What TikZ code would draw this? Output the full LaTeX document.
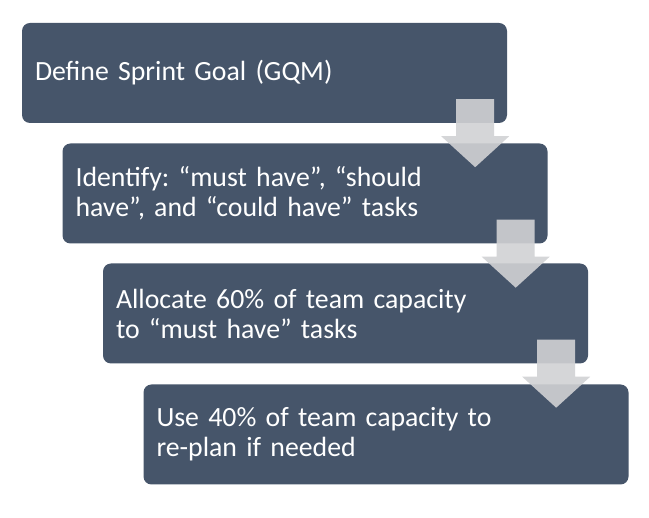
\documentclass[tikz,border=0pt]{standalone}
\usepackage{fontspec}
\setmainfont{Carlito}
\usetikzlibrary{calc}
\definecolor{boxfill}{RGB}{70,85,106}
\definecolor{arrowfill}{RGB}{209,210,212}
\tikzset{
  stepbox/.style={rectangle, rounded corners=8pt, fill=boxfill, draw=none,
    text=white, text width=459pt, inner xsep=13pt, inner ysep=0pt,
    minimum height=100pt, align=left, font=\frenchspacing\fontsize{27.8}{30}\selectfont},
  downarrow/.style={fill=arrowfill, fill opacity=0.9, draw=none}
}
\newcommand{\blockarrow}[1]{%
  \fill[downarrow]
    ($(#1.south east)+(-51,-24)$) -- ($(#1.south east)+(-13,-24)$) --
    ($(#1.south east)+(-13,13)$) -- ($(#1.south east)+(2,13)$) --
    ($(#1.south east)+(-32,44)$) -- ($(#1.south east)+(-66,13)$) --
    ($(#1.south east)+(-51,13)$) -- cycle;}
\begin{document}
\begin{tikzpicture}[x=1pt,y=-1pt]
\useasboundingbox[fill=white] (0,0) rectangle (649,518);
\node[stepbox] (b1) at (264.5,73) {Define Sprint Goal (GQM)};
\node[stepbox] (b2) at (305,193.5) {Identify: “must have”, “should\\have”, and “could have” tasks};
\node[stepbox] (b3) at (345.5,313.5) {Allocate 60\% of team capacity\\to “must have” tasks};
\node[stepbox] (b4) at (386,434.5) {Use 40\% of team capacity to\\re-plan if needed};
\blockarrow{b1}
\blockarrow{b2}
\blockarrow{b3}
\end{tikzpicture}
\end{document}
